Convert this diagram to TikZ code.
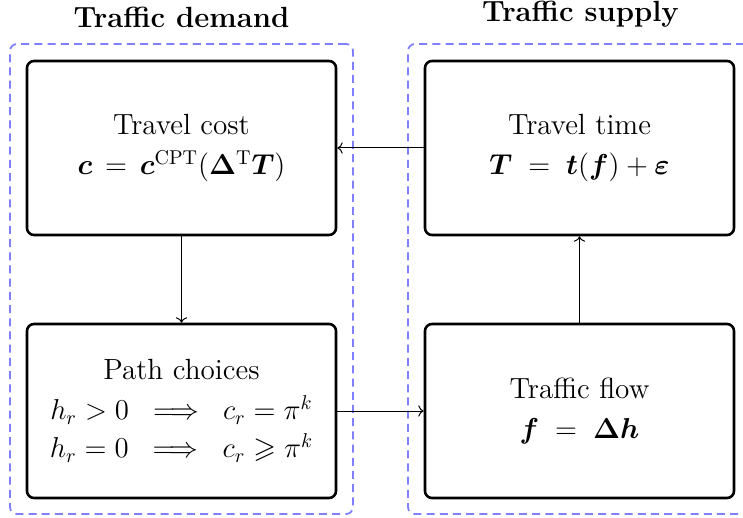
\documentclass[tikz,border=0pt]{standalone}
\usepackage{amsmath,amssymb,bm}
\usetikzlibrary{arrows.meta}
\begin{document}
\begin{tikzpicture}[x=0.5pt,y=-0.5pt,
  mainbox/.style={draw,line width=1.3pt,rounded corners=3.5pt,minimum width=154.5pt,minimum height=87pt,align=center,inner sep=0pt,font=\fontsize{14.6}{19}\selectfont},
  groupbox/.style={draw=blue!50,line width=0.9pt,dash pattern=on 4pt off 2.6pt,rounded corners=3.5pt,minimum width=171.5pt,minimum height=235pt,inner sep=0pt},
  grouptitle/.style={anchor=south,inner sep=0pt,font=\fontsize{14.6}{18}\selectfont\bfseries},
  conn/.style={->,line width=0.5pt}]
\useasboundingbox (0,0) rectangle (743,518);
\node[groupbox] (gd) at (181.5,279) {};
\node[groupbox] (gs) at (579.5,279) {};
\node[grouptitle] (td) at (181.5,28) {Traffic demand};
\node[grouptitle] (ts) at (580.5,28) {Traffic supply};
\node[mainbox] (tc) at (181.5,148) {Travel cost\\[1pt]$\bm{c}\,=\,\bm{c}^{\mathrm{CPT}}(\bm{\Delta}^{\mathrm{T}}\bm{T})$};
\node[mainbox] (pc) at (181.5,411) {Path choices\\[1pt]$h_r>0\;\implies\;c_r=\pi^k$\\$h_r=0\;\implies\;c_r\geqslant\pi^k$};
\node[mainbox] (tt) at (579.5,148) {Travel time\\[1pt]$\bm{T}\;=\;\bm{t}(\bm{f})+\bm{\varepsilon}$};
\node[mainbox] (tf) at (579.5,411) {Traffic flow\\[1pt]$\bm{f}\;=\;\bm{\Delta h}$};
\draw[conn] (tt.west) -- (tc.east);
\draw[conn] (tc.south) -- (pc.north);
\draw[conn] (pc.east) -- (tf.west);
\draw[conn] (tf.north) -- (tt.south);
\end{tikzpicture}
\end{document}
